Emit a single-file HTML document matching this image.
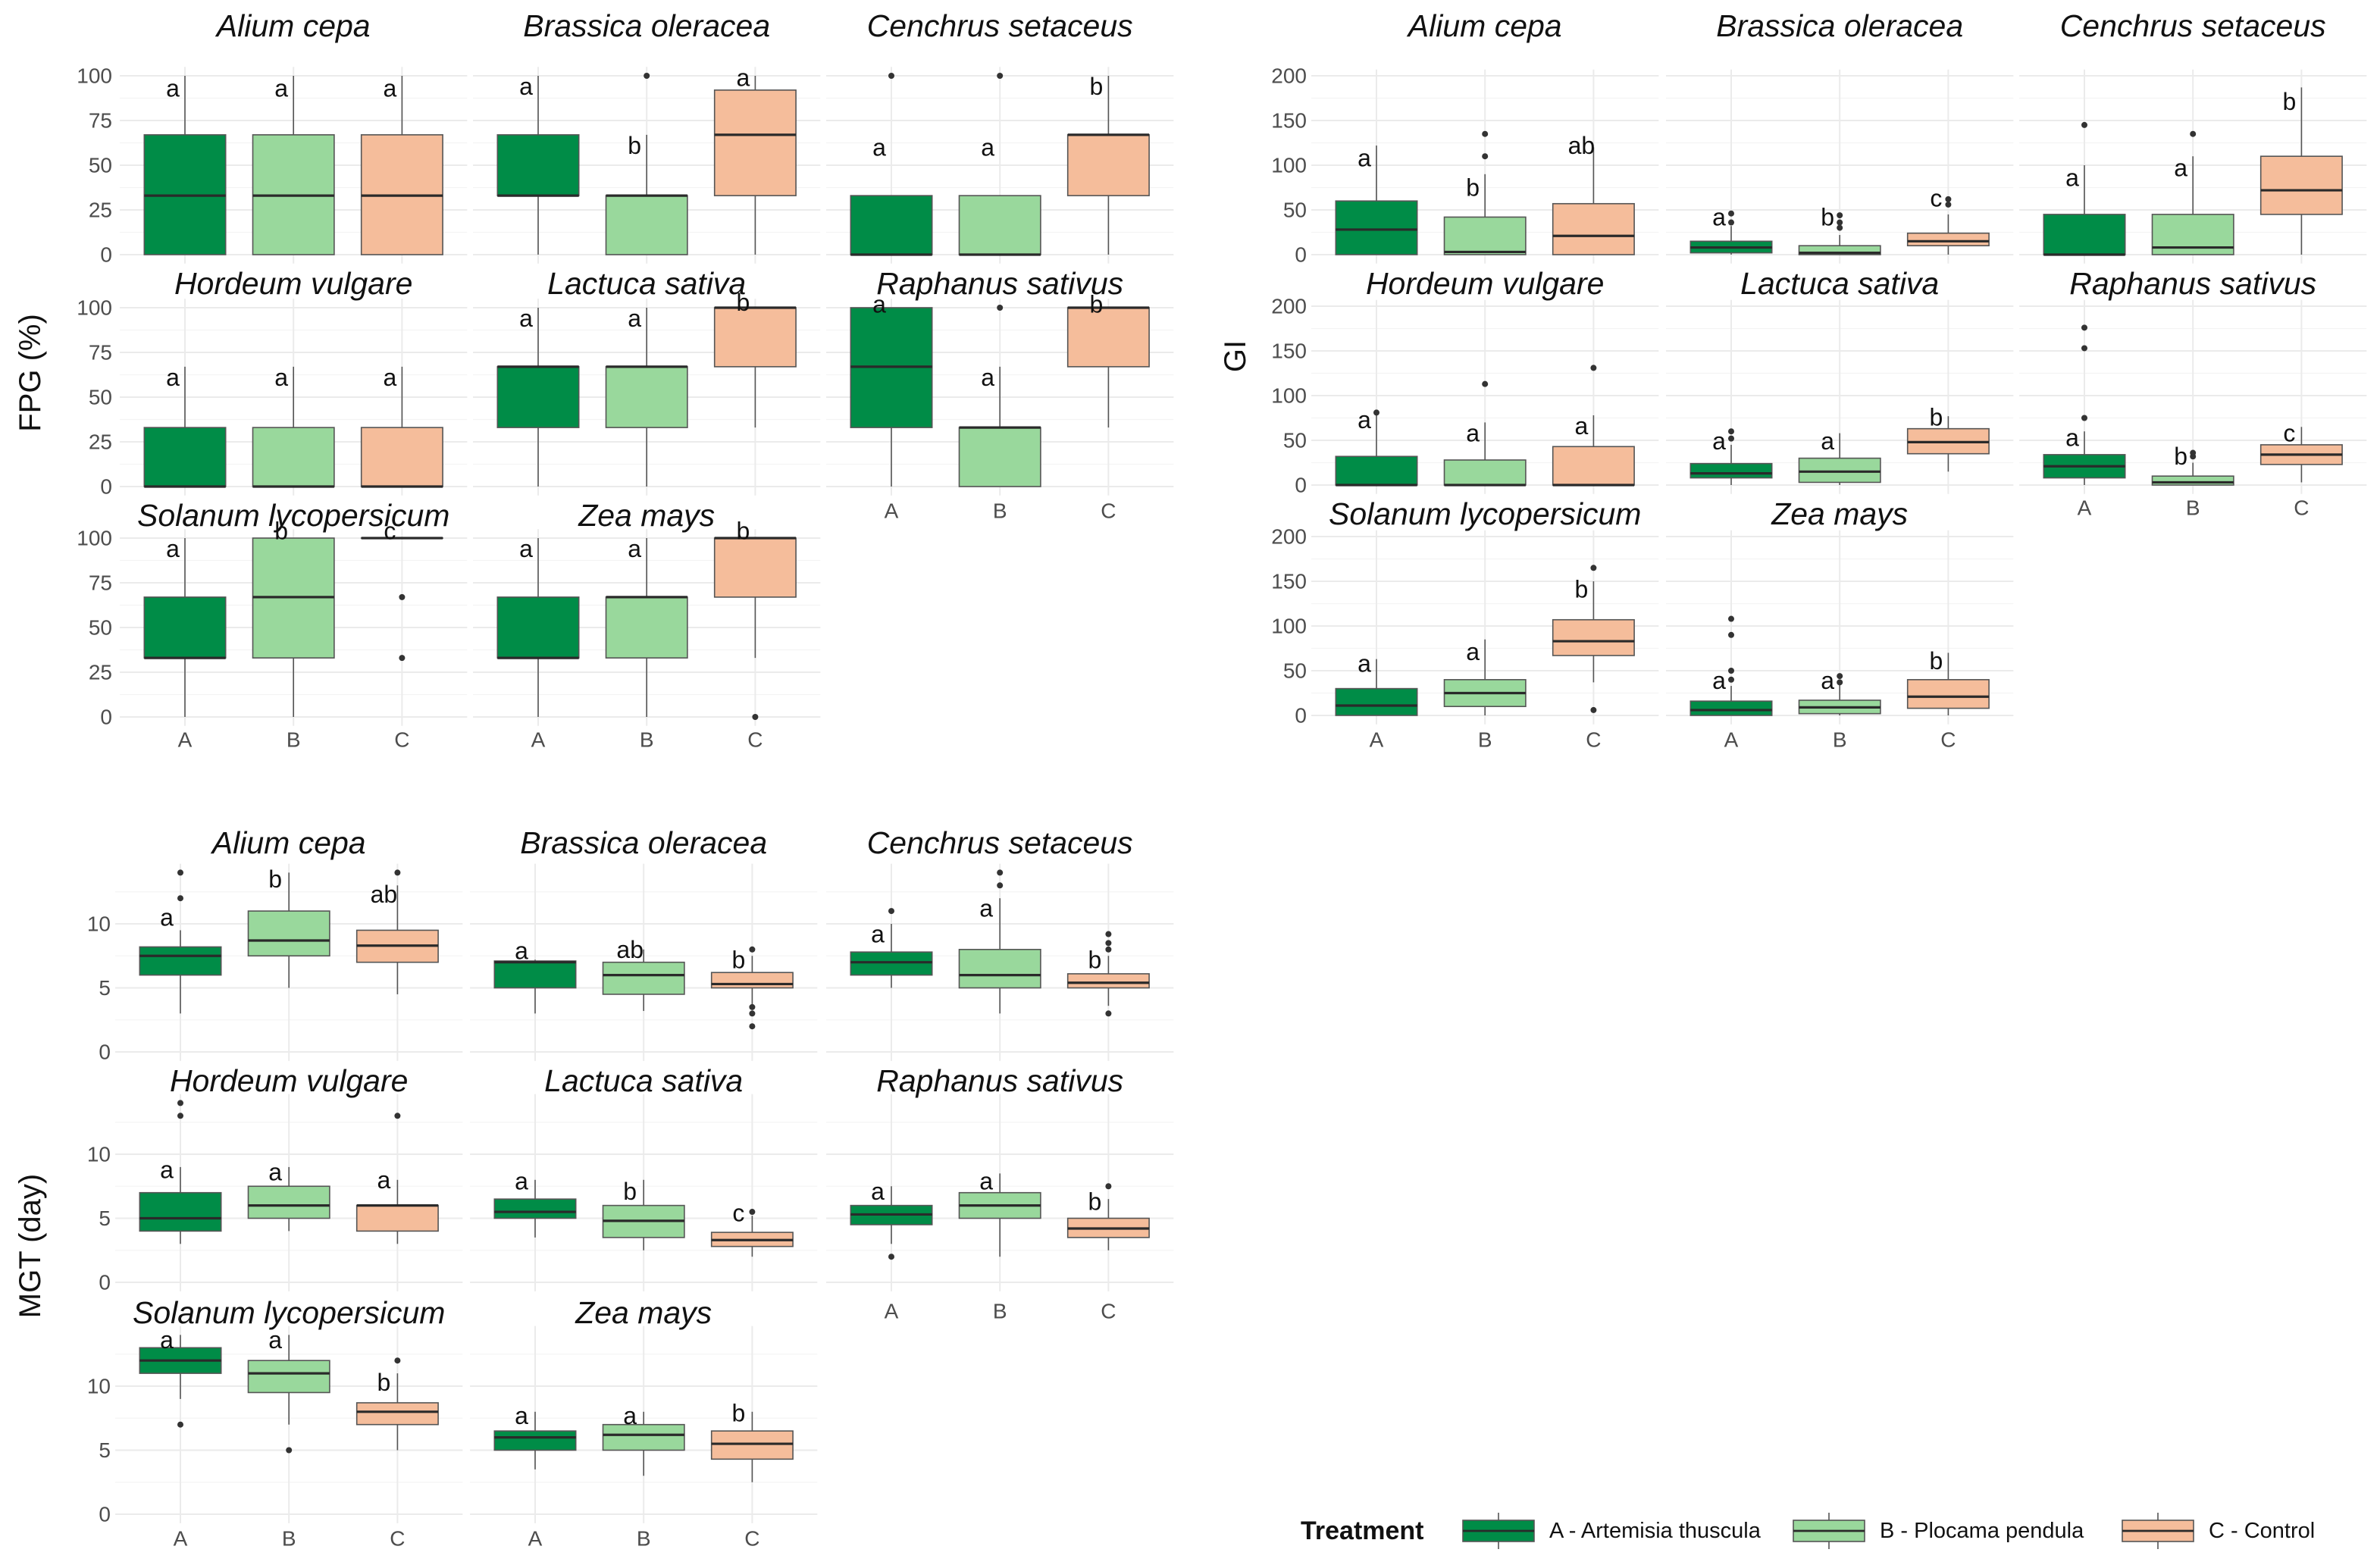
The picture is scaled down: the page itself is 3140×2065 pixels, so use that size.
<!DOCTYPE html>
<html><head><meta charset="utf-8">
<style>
html,body{margin:0;padding:0;background:#fff;}
svg{display:block;font-family:"Liberation Sans",sans-serif;}
</style></head>
<body>
<svg id="chart" width="3140" height="2065" viewBox="0 0 1570 1032.5" xmlns="http://www.w3.org/2000/svg"></svg>
<script>
// ---------- DATA ----------
const species = ["Alium cepa","Brassica oleracea","Cenchrus setaceus","Hordeum vulgare","Lactuca sativa","Raphanus sativus","Solanum lycopersicum","Zea mays"];
const treatments = ["A","B","C"];
const legendLabels = ["A - Artemisia thuscula","B - Plocama pendula","C - Control"];
// box stats per panel per treatment: [q1, median, q3, whiskerLow, whiskerHigh]
const fpgBoxes = [
 [[0,33,67,0,100],[0,33,67,0,100],[0,33,67,0,100]],
 [[33,33,67,0,100],[0,33,33,0,67],[33,67,92,0,100]],
 [[0,0,33,0,33],[0,0,33,0,33],[33,67,67,0,100]],
 [[0,0,33,0,67],[0,0,33,0,67],[0,0,33,0,67]],
 [[33,67,67,0,100],[33,67,67,0,100],[67,100,100,33,100]],
 [[33,67,100,0,100],[0,33,33,0,67],[67,100,100,33,100]],
 [[33,33,67,0,100],[33,67,100,0,100],[100,100,100,100,100]],
 [[33,33,67,0,100],[33,67,67,0,100],[67,100,100,33,100]]
];
const fpgOutliers = [[[],[],[]],[[],[100],[]],[[100],[100],[]],[[],[],[]],[[],[],[]],[[],[100],[]],[[],[],[67,33]],[[],[],[0]]];
const fpgLetters = [["a","a","a"],["a","b","a"],["a","a","b"],["a","a","a"],["a","a","b"],["a","a","b"],["a","b","c"],["a","a","b"]];
const fpgLetterY = [[93,93,93],[94,61,99],[60,60,94],[61,61,61],[94,94,103],[102,61,102],[94,104,104],[94,94,104]];
const fpgTicks = [0,25,50,75,100];

const giBoxes = [
 [[0,28,60,0,122],[0,3,42,0,90],[0,21,57,0,120]],
 [[2,8,15,0,32],[0,2,10,0,22],[10,15,24,0,45]],
 [[0,0,45,0,100],[0,8,45,0,110],[45,72,110,0,187]],
 [[0,0,32,0,80],[0,0,28,0,70],[0,0,43,0,78]],
 [[8,13,24,0,45],[3,15,30,0,58],[35,48,63,15,77]],
 [[8,21,34,0,60],[0,3,10,0,25],[23,34,45,3,65]],
 [[0,11,30,0,63],[10,25,40,0,85],[67,83,107,37,150]],
 [[0,6,16,0,33],[2,9,17,0,35],[8,21,40,0,70]]
];
const giOutliers = [[[],[110,135],[]],[[36,46],[30,36,44],[56,62]],[[145],[135],[]],[[81],[113],[131]],[[52,60],[],[]],[[75,153,176],[32,36],[]],[[],[],[6,165]],[[40,50,90,108],[37,44],[]]];
const giLetters = [["a","b","ab"],["a","b","c"],["a","a","b"],["a","a","a"],["a","a","b"],["a","b","c"],["a","a","b"],["a","a","b"]];
const giLetterY = [[108,75,122],[42,42,63],[86,97,171],[73,58,66],[49,49,76],[53,32,58],[58,71,141],[39,39,61]];
const giTicks = [0,50,100,150,200];

const mgtBoxes = [
 [[6,7.5,8.2,3,9.5],[7.5,8.7,11,5,14],[7,8.3,9.5,4.5,13]],
 [[5,7,7.1,3,7.2],[4.5,6,7,3.2,8],[5,5.3,6.2,3.5,7.5]],
 [[6,7,7.8,5,10],[5,6,8,3,12],[5,5.4,6.1,3.6,7.5]],
 [[4,5,7,3,9],[5,6,7.5,4,9],[4,6,6,3,8]],
 [[5,5.5,6.5,3.5,8],[3.5,4.8,6,2.5,8],[2.8,3.3,3.9,2,5.2]],
 [[4.5,5.3,6,3,7.5],[5,6,7,2,8.5],[3.5,4.2,5,2.5,6.5]],
 [[11,12,13,9,14],[9.5,11,12,7,14],[7,8,8.7,5,11]],
 [[5,6,6.5,3.5,8],[5,6.2,7,3,8],[4.3,5.5,6.5,2.5,8]]
];
const mgtOutliers = [[[12,14],[],[14]],[[],[],[8,3.5,3,2]],[[11],[13,14],[8,8.5,9.2,3]],[[13,14],[],[13]],[[],[],[5.5]],[[2],[],[7.5]],[[7],[5],[12]],[[],[],[]]];
const mgtLetters = [["a","b","ab"],["a","ab","b"],["a","a","b"],["a","a","a"],["a","b","c"],["a","a","b"],["a","a","b"],["a","a","b"]];
const mgtLetterY = [[10.5,13.5,12.3],[7.9,8.0,7.2],[9.2,11.2,7.2],[8.8,8.6,8.0],[7.9,7.1,5.4],[7.1,7.9,6.3],[13.6,13.6,10.3],[7.7,7.7,7.9]];
const mgtTicks = [0,5,10];

// ---------- LAYOUT (half-scale units) ----------
const fills = ["#008c47","#99d89c","#f5bd9b"];
const svg = document.getElementById('chart');
const NS = "http://www.w3.org/2000/svg";
function mk(tag, attrs, parent){ const e=document.createElementNS(NS,tag); for(const k in attrs) e.setAttribute(k,attrs[k]); (parent||svg).appendChild(e); return e; }

const figs = [
 {key:"fpg", boxes:fpgBoxes, outs:fpgOutliers, letters:fpgLetters, letterY:fpgLetterY, ticks:fpgTicks,
  colA:[122,355,588], zero:[168,321,473], scale:1.18, lo:-5, hi:105, tickX:74, ldx:-8,
  titleY:[17,187,340], xlabY:[null,337,488], ylab:"FPG (%)", ylabX:20, ylabY:246},
 {key:"gi", boxes:giBoxes, outs:giOutliers, letters:giLetters, letterY:giLetterY, ticks:giTicks,
  colA:[908,1142,1375], zero:[168,320,472], scale:0.59, lo:-10, hi:207, tickX:862, ldx:-8,
  titleY:[17,187,339], xlabY:[null,335,488], ylab:"GI", ylabX:815, ylabY:235},
 {key:"mgt", boxes:mgtBoxes, outs:mgtOutliers, letters:mgtLetters, letterY:mgtLetterY, ticks:mgtTicks,
  colA:[119,353,588], zero:[694,846,999], scale:8.45, lo:-0.7, hi:14.7, tickX:73, ldx:-9,
  titleY:[556,713,866], xlabY:[null,865,1015], ylab:"MGT (day)", ylabX:20, ylabY:822}
];
const sp = 71.6;

figs.forEach(f=>{
  const g = mk('g',{});
  
  
  const yl = mk('text',{x:f.ylabX,y:f.ylabY,'font-size':20,fill:'#111','text-anchor':'middle','dominant-baseline':'central',transform:`rotate(-90 ${f.ylabX} ${f.ylabY})`},g);
  yl.textContent = f.ylab;
  
  
  species.forEach((name,pi)=>{
    const row = Math.floor(pi/3), col = pi%3;
    const cx0 = f.colA[col];
    const yz = f.zero[row];
    const Y = v => yz - v*f.scale;
    const X = i => cx0 + i*sp;
    const pg = mk('g',{},g);
    
    
    const left = X(0)-0.6*sp, right = X(2)+0.6*sp, top = Y(f.hi), bot = Y(f.lo);
    for(let t=0;t<f.ticks.length-1;t++){
      const m=(f.ticks[t]+f.ticks[t+1])/2;
      if(Y(m)>top) mk('line',{x1:left,x2:right,y1:Y(m),y2:Y(m),stroke:'#f4f4f4','stroke-width':0.6},pg);
    }
    const last=f.ticks[f.ticks.length-1], step=f.ticks[1]-f.ticks[0];
    if(Y(last+step/2)>top) mk('line',{x1:left,x2:right,y1:Y(last+step/2),y2:Y(last+step/2),stroke:'#f4f4f4','stroke-width':0.6},pg);
    f.ticks.forEach(t=>{
      mk('line',{x1:left,x2:right,y1:Y(t),y2:Y(t),stroke:'#ebebeb','stroke-width':1},pg);
      if(col===0){
        const tl=mk('text',{x:f.tickX,y:Y(t),'font-size':14,fill:'#4d4d4d','text-anchor':'end','dominant-baseline':'central'},pg);
        tl.textContent=t;
        
        
      }
    });
    for(let i=0;i<3;i++) mk('line',{x1:X(i),x2:X(i),y1:top,y2:bot,stroke:'#ebebeb','stroke-width':1},pg);
    const tt=mk('text',{x:X(1),y:f.titleY[row],'font-size':20.5,'font-style':'italic',fill:'#111','text-anchor':'middle','dominant-baseline':'central'},pg);
    tt.textContent=name;
    
    
    const isBottom = (row===2) || (row===1 && col===2);
    if(isBottom){
      treatments.forEach((tr,i)=>{
        const xl=mk('text',{x:X(i),y:f.xlabY[row],'font-size':14,fill:'#4d4d4d','text-anchor':'middle','dominant-baseline':'central'},pg);
        xl.textContent=tr;
        
        
      });
    }
    const bw = 0.75*sp;
    f.boxes[pi].forEach((b,i)=>{
      const [q1,md,q3,wl,wh]=b;
      const bg=mk('g',{},pg);
      
      
      mk('line',{x1:X(i),x2:X(i),y1:Y(wh),y2:Y(q3),stroke:'#555','stroke-width':0.8},bg);
      mk('line',{x1:X(i),x2:X(i),y1:Y(q1),y2:Y(wl),stroke:'#555','stroke-width':0.8},bg);
      mk('rect',{x:X(i)-bw/2,y:Y(q3),width:bw,height:Math.max(0.01,Y(q1)-Y(q3)),fill:fills[i],stroke:'#555','stroke-width':0.8},bg);
      mk('line',{x1:X(i)-bw/2,x2:X(i)+bw/2,y1:Y(md),y2:Y(md),stroke:'#2a2a2a','stroke-width':1.6},bg);
      f.outs[pi][i].forEach(o=>{
        const c=mk('circle',{cx:X(i),cy:Y(o),r:2,fill:'#333'},bg);
        
        
      });
      const lt=mk('text',{x:X(i)+f.ldx,y:Y(f.letterY[pi][i]),'font-size':16,fill:'#111','text-anchor':'middle','dominant-baseline':'central'},bg);
      lt.textContent=f.letters[pi][i];
      
      
    });
  });
});

// legend
const lg=mk('g',{});


const lt=mk('text',{x:858,y:1010,'font-size':17,'font-weight':'bold',fill:'#111','dominant-baseline':'central'},lg);
lt.textContent="Treatment";


const keyX=[965,1183,1400];
legendLabels.forEach((lab,i)=>{
  const eg=mk('g',{},lg);
  
  
  const kx=keyX[i], kc=kx+23.5;
  mk('line',{x1:kc,x2:kc,y1:998,y2:1022,stroke:'#555','stroke-width':0.8},eg);
  mk('rect',{x:kx,y:1003,width:47,height:14,fill:fills[i],stroke:'#555','stroke-width':0.8},eg);
  mk('line',{x1:kx,x2:kx+47,y1:1010,y2:1010,stroke:'#2a2a2a','stroke-width':1.4},eg);
  const t=mk('text',{x:kx+57,y:1010,'font-size':14.5,fill:'#111','dominant-baseline':'central'},eg);
  t.textContent=lab;
  
  
});
</script>
</body></html>
